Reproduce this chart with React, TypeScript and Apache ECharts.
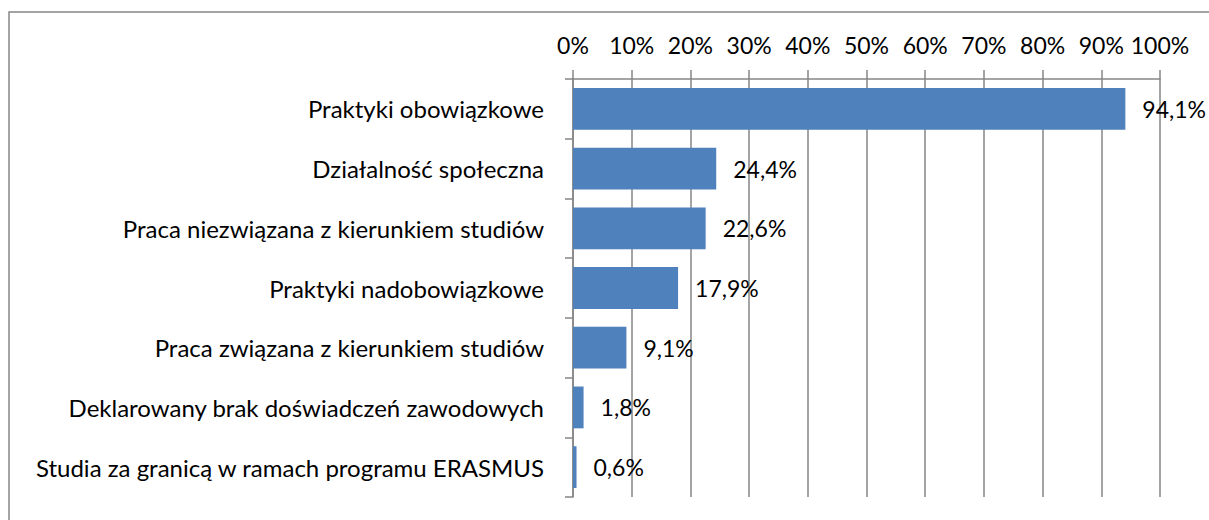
import React, { useEffect, useRef } from "react";
import * as echarts from "echarts";

const categories = [
  "Praktyki obowiązkowe",
  "Działalność społeczna",
  "Praca niezwiązana z kierunkiem studiów",
  "Praktyki nadobowiązkowe",
  "Praca związana z kierunkiem studiów",
  "Deklarowany brak doświadczeń zawodowych",
  "Studia za granicą w ramach programu ERASMUS",
];
const values = [94.1, 24.4, 22.6, 17.9, 9.1, 1.8, 0.6];

const FONT = "Lato";

export default function App() {
  const ref = useRef<HTMLDivElement>(null);
  useEffect(() => {
    if (!ref.current) return;
    const chart = echarts.init(ref.current, null, { renderer: "svg" });
    chart.setOption({
      animation: false,
      backgroundColor: "#ffffff",
      textStyle: { fontFamily: FONT },
      graphic: [
        {
          type: "rect",
          shape: { x: 9, y: 12, width: 1230, height: 540 },
          style: { fill: "none", stroke: "#868686", lineWidth: 1.5 },
          silent: true,
        },
      ],
      grid: { left: 573, right: 49, top: 79, bottom: 23, containLabel: false },
      xAxis: {
        type: "value",
        position: "top",
        min: 0,
        max: 100,
        interval: 10,
        axisLine: { show: true, lineStyle: { color: "#868686", width: 1.5 } },
        axisTick: { show: true, length: 9, lineStyle: { color: "#868686", width: 1.5 } },
        splitLine: { show: true, lineStyle: { color: "#868686", width: 1.5 } },
        axisLabel: {
          formatter: "{value}%",
          color: "#000",
          fontSize: 23,
          fontFamily: FONT,
          margin: 23,
        },
      },
      yAxis: {
        type: "category",
        inverse: true,
        data: categories,
        axisLine: { show: true, lineStyle: { color: "#868686", width: 1.5 } },
        axisTick: { show: true, length: 8, lineStyle: { color: "#868686", width: 1.5 } },
        axisLabel: {
          color: "#000",
          fontSize: 24,
          fontFamily: FONT,
          margin: 29,
        },
      },
      series: [
        {
          type: "bar",
          data: values,
          barWidth: "70%",
          itemStyle: { color: "#4F81BD" },
          label: {
            show: true,
            position: "right",
            distance: 17,
            color: "#000",
            fontSize: 23,
            fontFamily: FONT,
            formatter: (p: any) => String(p.value).replace(".", ",") + "%",
          },
        },
      ],
    });
    return () => chart.dispose();
  }, []);
  return <div ref={ref} style={{ width: 1209, height: 520, position: "absolute", left: 0, top: 0 }} />;
}
